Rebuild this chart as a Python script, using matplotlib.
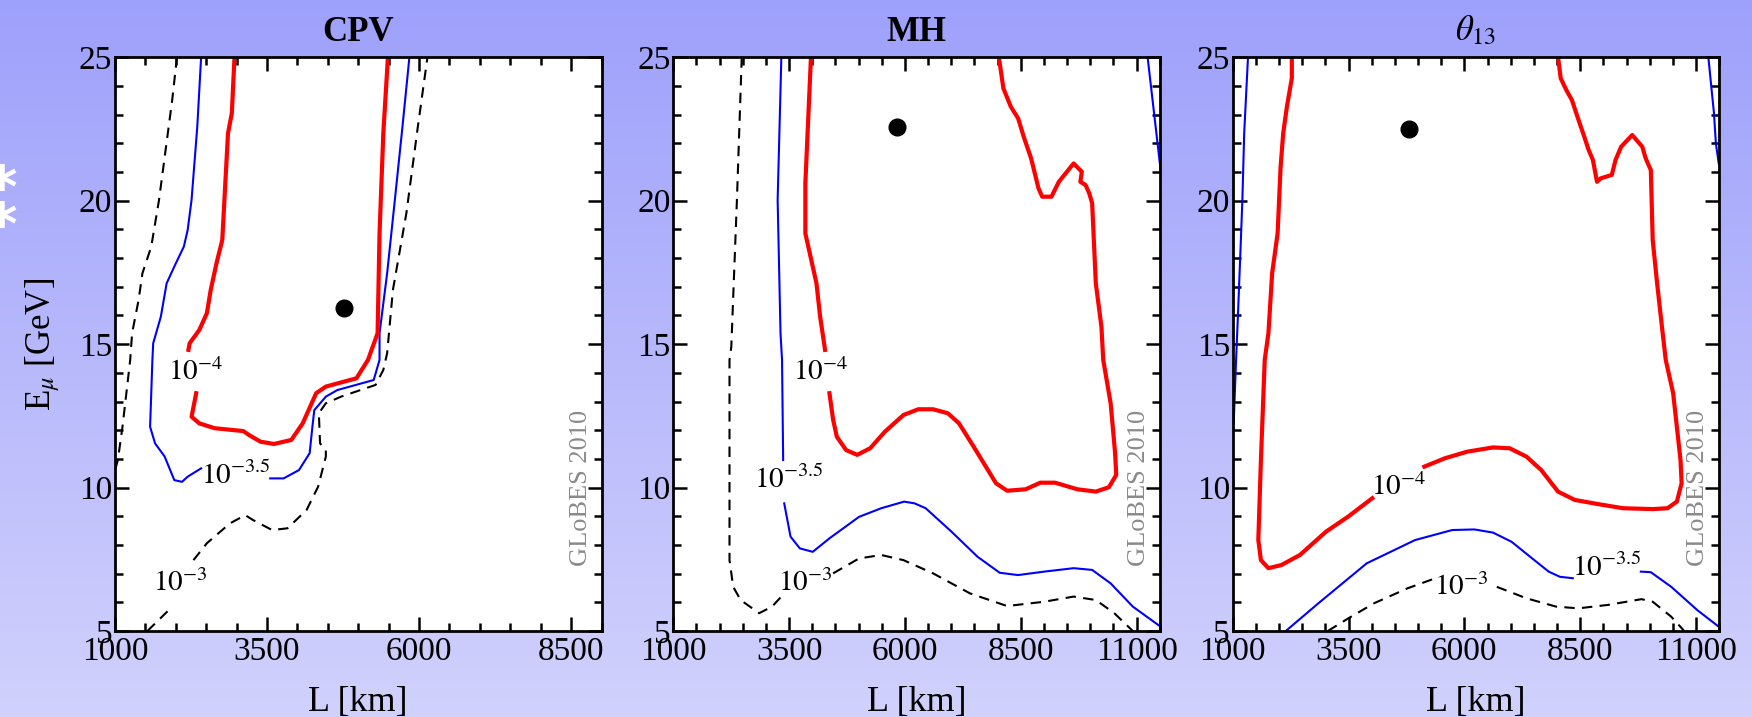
import numpy as np
import matplotlib
matplotlib.use("Agg")
import matplotlib.pyplot as plt
from matplotlib.ticker import MultipleLocator

plt.rcParams['font.family'] = 'serif'
plt.rcParams['font.serif'] = ['Liberation Serif', 'DejaVu Serif']
plt.rcParams['mathtext.fontset'] = 'stix'

nan = np.nan

# ---- data: L [km], E_mu [GeV]; nan = gap for label ----
titles = ['CPV', 'MH', r'$\theta_{13}$']
xlims = [(1000, 9000), (1000, 11500), (1000, 11500)]
xmajor = [[1000, 3500, 6000, 8500], [1000, 3500, 6000, 8500, 11000],
          [1000, 3500, 6000, 8500, 11000]]

# CPV
cpv_black_L = [2019, 1940, 1722, 1596, 1451, 1388, 1281, 1250, 1123, 1047, 1000, nan,
               1533, 1943, nan,
               2290, 2511, 2889, 3141, 3268, 3583, 3836, 4151, 4340, 4467, 4467, 4372,
               4352, 4467, 4718, 5286, 5412, 5475, 5570, 5791, 5980, 6138]
cpv_black_E = [25, 23.5, 20.0, 18.4, 17.47, 16.54, 15.38, 14.45, 12.12, 10.96, 10.6, nan,
               5, 5.85, nan,
               7.47, 8.06, 8.75, 9.04, 8.87, 8.52, 8.58, 9.22, 10.03, 11.08, 11.31, 11.54,
               12.59, 12.94, 13.17, 13.58, 14.1, 14.68, 16.89, 19.56, 22.58, 25]
cpv_blue_L = [2416, 2353, 2259, 2195, 2132, 1974, 1849, 1754, 1628, 1615, 1577, 1659, 1817,
              1975, 2101, 2195, 2416, nan,
              3552, 3773, 4025, 4201, 4246, 4277, 4467, 4656, 5254, 5350, 5350, 5475, 5602,
              5727, 5841]
cpv_blue_E = [25, 22.58, 20.03, 18.98, 18.4, 17.7, 17.12, 15.96, 15.03, 14.45, 12.12, 11.54,
              11.08, 10.26, 10.2, 10.38, 10.67, nan,
              10.32, 10.32, 10.61, 11.2, 12.12, 12.7, 13.17, 13.4, 13.75, 14.45, 15.38,
              17.47, 20.03, 22.58, 25]
cpv_red_L = [2965, 2921, 2858, 2764, 2669, 2574, 2511, 2385, 2227, 2208, nan,
             2335, 2259, 2385, 2637, 3110, 3205, 3393, 3614, 3899, 4087, 4308, 4467, 4970,
             5160, 5318, 5350, 5412, 5488]
cpv_red_E = [25, 23.05, 22.35, 18.63, 17.82, 16.89, 16.08, 15.49, 15.03, 14.8, nan,
             13.29, 12.47, 12.24, 12.07, 11.97, 11.83, 11.6, 11.52, 11.66, 12.24, 13.29,
             13.52, 13.81, 14.45, 15.38, 18.86, 22.35, 25]

# MH
mh_black_L = [2477, 2373, 2252, 2213, 2213, 2293, 2453, 2852, 3131, 3332, nan,
              4450, 5009, 5488, 5968, 6606, 7405, 8205, 9004, 9640, 10120, 10518, 10918]
mh_black_E = [25, 20.03, 14.91, 14.45, 7.47, 6.54, 6.08, 5.62, 5.85, 6.2, nan,
              7.01, 7.53, 7.65, 7.47, 7.01, 6.31, 5.87, 6.02, 6.2, 6.08, 5.62, 5.0]
mh_blue_L = [3332, 3252, 3314, 3347, 3371, nan,
             3394, 3530, 3731, 4010, 4370, 5009, 5488, 5982, 6207, 6447, 7006, 7565, 8045,
             8442, 9004, 9640, 10040, 10439, 10918, 11518, nan,
             11237, 11518]
mh_blue_E = [25, 20.03, 15.38, 14.45, 10.96, nan,
             9.45, 8.29, 7.88, 7.76, 8.23, 8.98, 9.28, 9.51, 9.45, 9.28, 8.46, 7.59, 7.03,
             6.95, 7.07, 7.19, 7.13, 6.66, 5.85, 5.15, nan,
             25, 21.07]
mh_red_L = [3971, 3930, 3850, 3850, 3930, 4090, 4169, 4275, nan,
            4370, 4450, 4530, 4728, 4968, 5249, 5568, 5968, 6287, 6607, 6926, 7166, 7485,
            7965, 8205, 8604, 8921, 9241, 9722, 10119, 10400, 10560, 10536, 10439, 10279,
            10240, 10119, 10040, 9977, 9897, 9785, 9817, 9640, 9321, 9161, 8962, 8882,
            8722, 8563, 8443, 8284, 8124, 8027]
mh_red_E = [25, 23.51, 20.61, 18.86, 18.28, 17.12, 15.96, 14.8, nan,
            13.29, 12.36, 11.77, 11.31, 11.14, 11.37, 11.95, 12.53, 12.73, 12.73, 12.59,
            12.24, 11.42, 10.15, 9.89, 9.94, 10.17, 10.17, 9.94, 9.86, 10.01, 10.44, 11.19,
            12.94, 14.45, 15.61, 17.12, 19.91, 20.26, 20.55, 20.66, 21.01, 21.3, 20.66,
            20.14, 20.14, 20.43, 21.48, 22.23, 22.87, 23.28, 23.92, 25]

# theta13
th_black_L = [3053, 3494, 4055, 4776, 5376, nan,
              6700, 7339, 7980, 8461, 9102, 9823, 10065, 10464, 10745]
th_black_E = [5, 5.44, 5.97, 6.49, 6.84, nan,
              6.54, 6.14, 5.85, 5.79, 5.91, 6.11, 6.02, 5.5, 5.0]
th_blue_L = [1330, 1248, 1209, 1168, 1112, 1073, 1024, 1000, nan,
             2146, 2852, 3893, 4936, 5737, 6218, 6620, 7019, 7418, 7820, 8062, 8340, nan,
             9808, 10024, 10465, 11026, 11490, nan,
             11266, 11387, 11428, 11490]
th_blue_E = [25, 22.35, 20.03, 18.28, 15.96, 14.45, 12.36, 12.1, nan,
             5, 5.97, 7.36, 8.17, 8.52, 8.54, 8.43, 8.11, 7.59, 7.07, 6.89, 6.84, nan,
             7.07, 7.05, 6.54, 5.73, 5.15, nan,
             25, 23.05, 22.0, 21.3]
th_red_L = [2276, 2276, 2170, 2090, 2034, 1969, 1851, 1771, 1691, 1609, 1553, 1609, 1771,
            2052, 2451, 3012, 3494, 4014, nan,
            5137, 5577, 6058, 6620, 6978, 7339, 7660, 8021, 8381, 8863, 9424, 10065, 10385,
            10586, 10689, 10665, 10506, 10346, 10264, 10160, 10065, 10024, 9944, 9903,
            9841, 9623, 9383, 9262, 9182, 8943, 8863, 8774, 8682, 8563, 8440, 8321, 8200,
            8079, 8023]
th_red_E = [25, 24.27, 23.28, 22.35, 21.19, 18.86, 17.47, 15.38, 14.45, 10.96, 8.17, 7.47,
            7.19, 7.30, 7.65, 8.46, 8.99, 9.63, nan,
            10.73, 11.02, 11.25, 11.4, 11.37, 11.08, 10.61, 9.86, 9.57, 9.43, 9.28, 9.25,
            9.28, 9.51, 10.15, 10.96, 13.29, 14.45, 15.61, 17.12, 18.63, 21.07, 21.36,
            21.53, 21.88, 22.29, 21.88, 21.42, 20.9, 20.78, 20.66, 21.42, 21.77, 22.35,
            22.93, 23.51, 23.86, 24.27, 25]

# best-point dots
dot_L = [4770, 5830, 4815]
dot_E = [16.25, 22.56, 22.5]

# contour labels (text, L, E) per panel
contour_labels = [
    [(r'$10^{-4}$', 2331, 14.03), (r'$10^{-3.5}$', 2984, 10.4), (r'$10^{-3}$', 2071, 6.66)],
    [(r'$10^{-4}$', 4187, 14.03), (r'$10^{-3.5}$', 3490, 10.26), (r'$10^{-3}$', 3850, 6.66)],
    [(r'$10^{-4}$', 4570, 10.03), (r'$10^{-3.5}$', 9082, 7.19), (r'$10^{-3}$', 5937, 6.54)],
]

curves = [
    (cpv_black_L, cpv_black_E, cpv_blue_L, cpv_blue_E, cpv_red_L, cpv_red_E),
    (mh_black_L, mh_black_E, mh_blue_L, mh_blue_E, mh_red_L, mh_red_E),
    (th_black_L, th_black_E, th_blue_L, th_blue_E, th_red_L, th_red_E),
]

W, H = 1752, 717
fig = plt.figure(figsize=(W / 100, H / 100), dpi=100)

# background gradient
bg = fig.add_axes([0, 0, 1, 1], zorder=-5)
top = np.array([0.62, 0.63, 0.985])
bot = np.array([0.82, 0.82, 0.99])
t = np.linspace(0, 1, 256)[:, None]
grad = (top * (1 - t) + bot * t)[:, None, :]
bg.imshow(grad, aspect='auto', extent=[0, 1, 0, 1])
bg.axis('off')
fig.text(0.001, 0.735, '*', color='white', fontsize=42, fontweight='bold',
         family='DejaVu Sans', ha='center', va='center')
fig.text(0.001, 0.683, '*', color='white', fontsize=42, fontweight='bold',
         family='DejaVu Sans', ha='center', va='center')

lefts = [115, 673.3, 1232.7]
for i, left in enumerate(lefts):
    ax = fig.add_axes([left / W, 1 - 631 / H, 486.5 / W, (631 - 57.3) / H])
    ax.set_facecolor('white')
    bL, bE, uL, uE, rL, rE = curves[i]
    ax.plot(bL, bE, color='black', lw=1.5, dashes=(5, 3.5))
    ax.plot(uL, uE, color='#0000ff', lw=1.5)
    ax.plot(rL, rE, color='#ff0000', lw=3.0)
    ax.plot(dot_L[i], dot_E[i], 'o', color='black', ms=12)
    for txt, lx, ly in contour_labels[i]:
        ax.text(lx, ly, txt, fontsize=21, ha='center', va='center')
    ax.text(0.957, 0.25, 'GLoBES 2010', transform=ax.transAxes, rotation=90,
            color='#8a8a8a', fontsize=19, ha='center', va='center')

    ax.set_xlim(*xlims[i])
    ax.set_ylim(5, 25)
    ax.set_xticks(xmajor[i])
    ax.xaxis.set_minor_locator(MultipleLocator(500))
    ax.set_yticks([5, 10, 15, 20, 25])
    ax.yaxis.set_minor_locator(MultipleLocator(1))
    ax.tick_params(which='both', direction='in', top=True, right=True, width=1.8,
                   labelsize=24)
    ax.tick_params(which='major', length=10)
    ax.tick_params(which='minor', length=5.5)
    ax.tick_params(axis='y', pad=2)
    ax.tick_params(axis='x', pad=4)
    for s in ax.spines.values():
        s.set_linewidth(2)
    ax.set_title(titles[i], fontsize=25, fontweight='bold', pad=12)
    ax.set_xlabel('L [km]', fontsize=26, labelpad=14)
    if i == 0:
        ax.set_ylabel(r'E$_\mu$ [GeV]', fontsize=25, labelpad=12)

fig.savefig('out.png', dpi=100)
